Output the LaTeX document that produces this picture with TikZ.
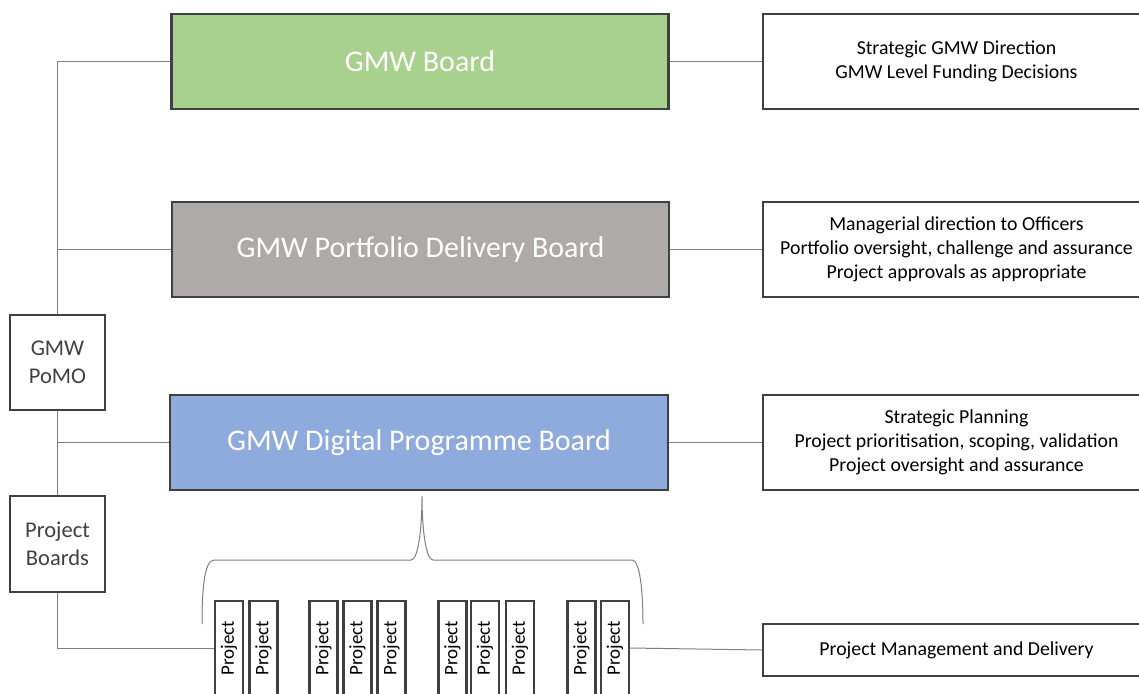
\documentclass[tikz,border=0pt]{standalone}
\usepackage{fontspec}
\setmainfont{Carlito}
\definecolor{bordc}{HTML}{404040}
\definecolor{linec}{HTML}{808080}
\definecolor{greenb}{HTML}{A9D18E}
\definecolor{greyb}{HTML}{AEAAAA}
\definecolor{blueb}{HTML}{8FAADC}
\definecolor{txtc}{HTML}{404040}
\begin{document}
\begin{tikzpicture}[x=1pt,y=-1pt,
  board/.style={draw=bordc,line width=2.5pt,minimum width=497pt,minimum height=95pt,inner sep=0pt,text=white,font=\fontsize{30}{34}\selectfont},
  info/.style={draw=bordc,line width=2pt,fill=white,minimum width=387pt,minimum height=95pt,inner sep=0pt,align=center,font=\fontsize{19.8}{24}\selectfont},
  side/.style={draw=bordc,line width=2.5pt,fill=white,minimum width=95pt,minimum height=95pt,inner sep=0pt,align=center,text=txtc,font=\fontsize{22.5}{28}\selectfont},
  proj/.style={draw=bordc,line width=2.5pt,fill=white,minimum width=28pt,minimum height=94pt,inner sep=0pt,font=\fontsize{19}{22}\selectfont},
  conn/.style={draw=linec,line width=1pt}]
\clip (0,0) rectangle (1139,693);
\useasboundingbox (0,0) rectangle (1139,693);
\fill[white] (0,0) rectangle (1139,693);
% main boards
\node[board,fill=greenb] (board) at (420,61.5) {GMW Board};
\node[board,fill=greyb] (portfolio) at (420.5,249.5) {GMW Portfolio Delivery Board};
\node[board,fill=blueb,minimum width=498pt] (digital) at (419,442.5) {GMW Digital Programme Board};
% info boxes
\node[info] (r1) at (956.5,61.5) {Strategic GMW Direction\\GMW Level Funding Decisions};
\node[info] (r2) at (956.5,249.5) {Managerial direction to Officers\\Portfolio oversight, challenge and assurance\\Project approvals as appropriate};
\node[info] (r3) at (956.5,442.5) {Strategic Planning\\Project prioritisation, scoping, validation\\Project oversight and assurance};
\node[info,minimum height=52pt] (r4) at (956.5,650) {Project Management and Delivery};
% side boxes
\node[side] (pomo) at (57.5,362.5) {GMW\\PoMO};
\node[side,minimum height=96pt] (pboards) at (57.5,544) {Project\\Boards};
% projects
\foreach \n/\x in {1/229,2/263.5,3/323.5,4/357.5,5/391.5,6/452.5,7/485,8/520,9/581.5,10/615}{
  \node[proj] (p\n) at (\x,648) {\rotatebox{90}{Project}};
}
% connectors
\draw[conn] (board.east) -- (r1.west);
\draw[conn] (portfolio.east) -- (r2.west);
\draw[conn] (digital.east) -- (r3.west);
\draw[conn] (p10.east) -- (r4.west);
\draw[conn] (board.west) -| (pomo.north);
\draw[conn] (portfolio.west) -- (portfolio.west -| pomo.north);
\draw[conn] (pomo.south) -- (pboards.north);
\draw[conn] (digital.west) -- (digital.west -| pomo.south);
\draw[conn] (pboards.south) |- (p1.west);
% brace
\coordinate (tip) at (422,496);
\draw[conn] (202,624) .. controls (202,592) and (204,560) .. (214,560) -- (411,560)
  .. controls (418,560) and (422,530) .. (tip)
  .. controls (422,530) and (426,560) .. (433,560) -- (632,560)
  .. controls (640,560) and (643,592) .. (643,624);
\end{tikzpicture}
\end{document}
